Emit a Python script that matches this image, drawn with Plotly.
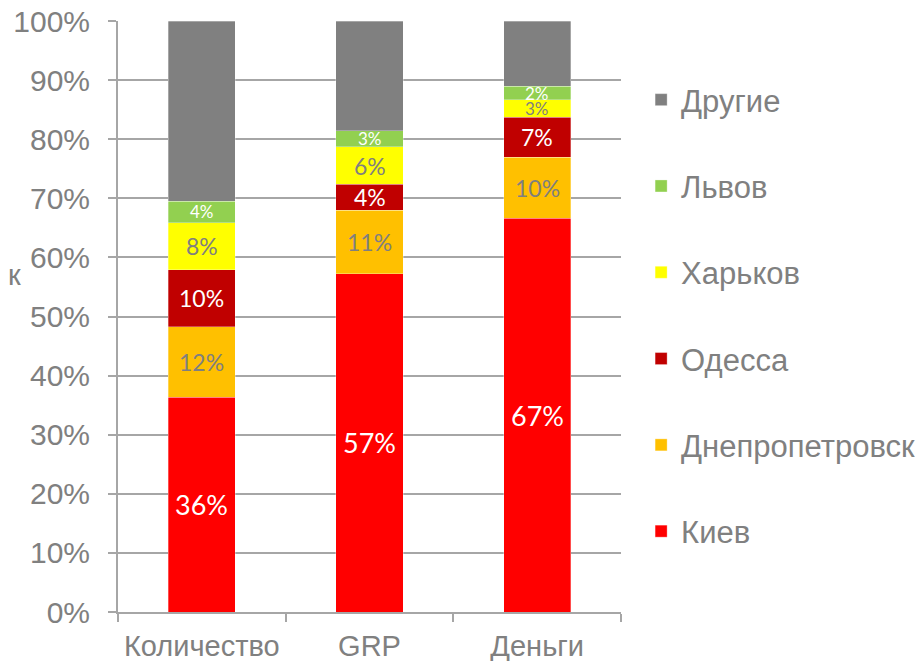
import plotly.graph_objects as go

categories = ["Количество", "GRP", "Деньги"]
series_names = ["Киев", "Днепропетровск", "Одесса", "Харьков", "Львов", "Другие"]
kiev = [36.3, 57.2, 66.6]
dnepr = [12.0, 10.8, 10.35]
odessa = [9.6, 4.35, 6.8]
kharkov = [7.95, 6.4, 2.9]
lviv = [3.67, 2.7, 2.3]
others = [30.48, 18.55, 11.05]
tick_vals = [0, 10, 20, 30, 40, 50, 60, 70, 80, 90, 100]
tick_text = ["0%", "10%", "20%", "30%", "40%", "50%", "60%", "70%", "80%", "90%", "100%"]

series_values = [kiev, dnepr, odessa, kharkov, lviv, others]
colors = ["#FF0000", "#FFC000", "#C00000", "#FFFF00", "#92D050", "#808080"]
label_colors = ["white", "#7F7F7F", "white", "#7F7F7F", "white", None]
label_sizes = [
    [27, 27, 27],
    [23, 23, 23],
    [23, 23, 23],
    [23, 23, 17],
    [17, 17, 17],
    None,
]

GRAY = "#808080"
AXIS = "#A6A6A6"

fig = go.Figure()
n = len(series_names)
for i, (name, vals, col) in enumerate(zip(series_names, series_values, colors)):
    fig.add_trace(go.Bar(
        x=categories, y=vals, name=name, legendgroup=name, legendrank=n - i,
        marker=dict(color=col, line=dict(color="rgba(255,255,255,0.6)", width=0.5)),
        hoverinfo="skip",
    ))

annotations = []
for si, vals in enumerate(series_values):
    if label_colors[si] is None:
        continue
    for ci, cat in enumerate(categories):
        base = sum(series_values[k][ci] for k in range(si))
        annotations.append(dict(
            x=cat, y=base + vals[ci] / 2, xref="x", yref="y",
            text=f"{round(vals[ci])}%", showarrow=False,
            font=dict(family="Lato, Carlito, sans-serif", size=label_sizes[si][ci], color=label_colors[si]),
        ))

annotations.append(dict(
    x=0, y=0.57, xref="paper", yref="paper", xanchor="left", yanchor="middle",
    xshift=-112, text="к", showarrow=False,
    font=dict(family="Liberation Sans, Arial, sans-serif", size=29, color=GRAY),
))

fig.update_layout(
    width=924, height=661,
    margin=dict(l=110, r=311, t=13, b=57, autoexpand=False),
    paper_bgcolor="white", plot_bgcolor="white",
    barmode="stack", bargap=0.6,
    font=dict(family="Liberation Sans, Arial, sans-serif", size=29, color=GRAY),
    showlegend=True,
    legend=dict(
        x=1.04, y=0.912, xanchor="left", yanchor="top",
        traceorder="grouped", tracegroupgap=43,
        font=dict(size=31, color=GRAY),
        bgcolor="rgba(0,0,0,0)",
    ),
    annotations=annotations,
)
fig.update_xaxes(
    type="category", showline=True, linecolor=AXIS, linewidth=2,
    ticks="outside", ticklen=8, tickcolor=AXIS, tickwidth=2,
    tickson="boundaries", showgrid=False, fixedrange=True,
    ticklabelstandoff=7,
    tickfont=dict(size=29, color=GRAY),
)
fig.update_yaxes(
    range=[0, 100], tickvals=tick_vals, ticktext=tick_text,
    showline=True, linecolor=AXIS, linewidth=2,
    ticks="outside", ticklen=8, tickcolor=AXIS, tickwidth=2,
    showgrid=True, gridcolor=AXIS, gridwidth=2, zeroline=False,
    ticklabelstandoff=12, ticklabeloverflow="allow",
    tickfont=dict(size=30, color=GRAY), fixedrange=True,
)

fig.write_html("out.html")
